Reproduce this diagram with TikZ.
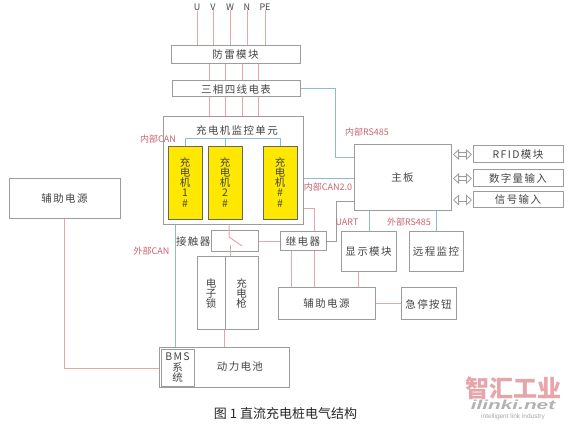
\documentclass[tikz,border=0pt]{standalone}
\usepackage{fontspec}
\setmainfont{Noto Sans CJK SC}
\newfontfamily\spacedfont[LetterSpace=13]{Noto Sans CJK SC}
\newfontfamily\markfont{Liberation Sans}
\definecolor{BoxEdge}{HTML}{9C9C9C}
\definecolor{PowerLine}{HTML}{E6A5A8}
\definecolor{BusLine}{HTML}{8DBBD6}
\definecolor{BusText}{HTML}{C9646E}
\definecolor{BoxText}{HTML}{454545}
\definecolor{ChargerFill}{HTML}{FFE800}
\usetikzlibrary{arrows.meta,positioning,calc}

\begin{document}
\begin{tikzpicture}[
						x=1pt, y=-1pt,
						box/.style={draw=BoxEdge, line width=1pt, align=center, inner sep=0pt, fill=white,
							text=BoxText, font=\fontsize{10.5}{10.3}\selectfont\spacedfont},
						charger/.style={box, draw=black!60, fill=ChargerFill, minimum width=34pt, minimum height=73pt},
						txt/.style={align=center, inner sep=0pt, text=BoxText, font=\fontsize{10.5}{10.3}\selectfont\spacedfont},
						bus/.style={text=BusText, inner sep=0pt, font=\fontsize{9}{9}\selectfont},
						pw/.style={draw=PowerLine, line width=1pt},
						can/.style={draw=BusLine, line width=1pt},
						sig/.style={draw=BoxEdge, line width=1pt},
						io/.style={draw=BoxEdge, line width=.8pt, double=white, double distance=3pt,
							{Triangle[open, fill=white, length=6pt, width=11pt]}-{Triangle[open, fill=white, length=6pt, width=11pt]},
							shorten <=.5pt, shorten >=1.5pt},
						>=Latex
					]
						\useasboundingbox (0,0) rectangle (573,430);

						\node[txt, font=\fontsize{9}{9}\selectfont] (u) at (197,7) {U};
						\node[txt, font=\fontsize{9}{9}\selectfont] (v) at (213,7) {V};
						\node[txt, font=\fontsize{9}{9}\selectfont] (w) at (230,7) {W};
						\node[txt, font=\fontsize{9}{9}\selectfont] (n) at (247,7) {N};
						\node[txt, font=\fontsize{9}{9}\selectfont] (pe) at (265,7) {PE};

						\node[box, minimum width=129pt, minimum height=18pt] (spd) at (235.5,55) {防雷模块};
						\node[box, minimum width=128pt, minimum height=16pt] (meter) at (236,89) {三相四线电表};
						\node[box, minimum width=140pt, minimum height=108pt] (monitor) at (233,171) {};
						\node[txt] (montitle) at (237,131) {充电机监控单元};

						\node[charger] (chg1) at (185,183.5) {{}\\[-4pt]充\\电\\机\\1\\\#};
						\node[charger] (chg2) at (225,183.5) {{}\\[-4pt]充\\电\\机\\2\\\#};
						\node[charger] (chg3) at (280,183.5) {{}\\[-4pt]充\\电\\机\\\#\\\#};

						\node[box, minimum width=97pt, minimum height=66pt] (mainboard) at (402.5,178) {主板};
						\node[box, minimum width=90pt, minimum height=17pt] (rfid) at (518,154.5) {RFID模块};
						\node[box, minimum width=90pt, minimum height=17pt] (digin) at (518,178.5) {数字量输入};
						\node[box, minimum width=90pt, minimum height=16pt] (sigin) at (518,200) {信号输入};

						\node[box, minimum width=111pt, minimum height=40pt] (auxleft) at (64.5,199) {辅助电源};

						\node[box, minimum width=47pt, minimum height=21pt] (contactor) at (234.5,241.5) {};
						\node[txt, left=0pt of contactor] (contlabel) {接触器};
						\node[box, minimum width=46pt, minimum height=19pt] (relay) at (303,241.5) {继电器};

						\node[box, minimum width=28pt, minimum height=73pt] (lock) at (211,293.5) {电\\子\\锁};
						\node[box, minimum width=33pt, minimum height=73pt] (gun) at (241.5,293.5) {充\\电\\枪};

						\node[box, minimum width=55pt, minimum height=40pt] (display) at (368.5,252) {显示模块};
						\node[box, minimum width=54pt, minimum height=40pt] (remote) at (436,252) {远程监控};
						\node[box, minimum width=97pt, minimum height=32pt] (auxright) at (326.5,304) {辅助电源};
						\node[box, minimum width=55pt, minimum height=32pt] (estop) at (428.5,304) {急停按钮};

						\node[box, minimum width=130pt, minimum height=40pt, text width=78pt, inner xsep=26pt, align=right] (battery) at (224,367) {动力电池};
						\node[box, minimum width=33pt, minimum height=37pt] (bms) at (177.5,367.5) {BMS\\系\\统};

						% power lines
						\draw[pw] (u) -- (u |- spd.north);
						\draw[pw] (v) -- (v |- spd.north);
						\draw[pw] (w) -- (w |- spd.north);
						\draw[pw] (n) -- (n |- spd.north);
						\draw[pw] (pe) -- (pe |- spd.north);

						\draw[pw] (209,0 |- spd.south) -- (209,0 |- meter.north);
						\draw[pw] (225,0 |- spd.south) -- (225,0 |- meter.north);
						\draw[pw] (242,0 |- spd.south) -- (242,0 |- meter.north);
						\draw[pw] (258,0 |- spd.south) -- (258,0 |- meter.north);
						\draw[pw] (209,0 |- meter.south) -- (209,0 |- monitor.north);
						\draw[pw] (225,0 |- meter.south) -- (225,0 |- monitor.north);
						\draw[pw] (242,0 |- meter.south) -- (242,0 |- monitor.north);
						\draw[pw] (258,0 |- meter.south) -- (258,0 |- monitor.north);

						\coordinate (swtop) at (229,237);
						\coordinate (swend) at (242,246);
						\coordinate (swbot) at (230,245);
						\draw[pw] (swtop |- monitor.south) -- (swtop) -- (swend);
						\draw[pw] (swbot) -- (swbot |- gun.north);
						\draw[pw] (contactor.east) -- (relay.west);
						\draw[pw] (monitor.east |- 0,209) -- (314,209) -- (314,0 |- relay.north);
						\draw[pw] (314,0 |- relay.south) -- (314,0 |- auxright.north);
						\draw[pw] (291,0 |- relay.south) -- (291,0 |- auxright.north);
						\draw[pw] (358,0 |- display.south) -- (358,0 |- auxright.north);
						\draw[pw] (auxright.east) -- (estop.west);
						\draw[pw] (gun.south west) -- (gun.south west |- battery.north);
						\draw[pw] (auxleft.south) |- (battery.west |- 0,368);

						% CAN and RS485
						\draw[can] (chg1.north) -- ++(0,-8) -| (chg3.north);
						\draw[can] (chg2.north) -- ++(0,-8);
						\draw[can] (meter.east) -- (335,89) |- (mainboard.west |- 0,158);
						\draw[can] (monitor.east |- 0,179) -- (mainboard.west |- 0,179);
						\draw[can] (175,0 |- monitor.south) -- (175,0 |- battery.north);
						\draw[can] (369,0 |- mainboard.south) -- (369,0 |- display.north);
						\draw[can] (436,0 |- mainboard.south) -- (436,0 |- remote.north);
						\draw[sig] (relay.east) -- (336,241.5) |- (mainboard.west |- 0,202);

						\draw[io] (rfid.west) -- (rfid.west -| mainboard.east);
						\draw[io] (digin.west) -- (digin.west -| mainboard.east);
						\draw[io] (sigin.west) -- (sigin.west -| mainboard.east);

						\node[bus] (canin) at (158,139) {内部CAN};
						\node[bus] (canout) at (151.5,251) {外部CAN};
						\node[bus] (rsin) at (367,132) {内部RS485};
						\node[bus] (cantwo) at (328,187) {内部CAN2.0};
						\node[bus] (uart) at (347,222) {UART};
						\node[bus] (rsout) at (409,222) {外部RS485};

						\node[inner sep=0pt, text=black!85, font=\fontsize{13}{13}\selectfont] (caption) at (285.5,414) {图 1 直流充电桩电气结构};

						\node[inner sep=0pt, text=PowerLine, font=\fontsize{24}{24}\selectfont\bfseries] (markcn) at (513,388) {智汇工业};
						\node[inner sep=0pt, text=black!30, xscale=1.6, transform shape, font=\fontsize{13}{13}\selectfont\markfont\bfseries\itshape] (markurl) at (513,405) {ilinki.net};
						\node[inner sep=0pt, text=black!35, font=\fontsize{6.5}{6.5}\selectfont\markfont] (markeng) at (513,417) {intelligent link industry};
					\end{tikzpicture}
\end{document}
